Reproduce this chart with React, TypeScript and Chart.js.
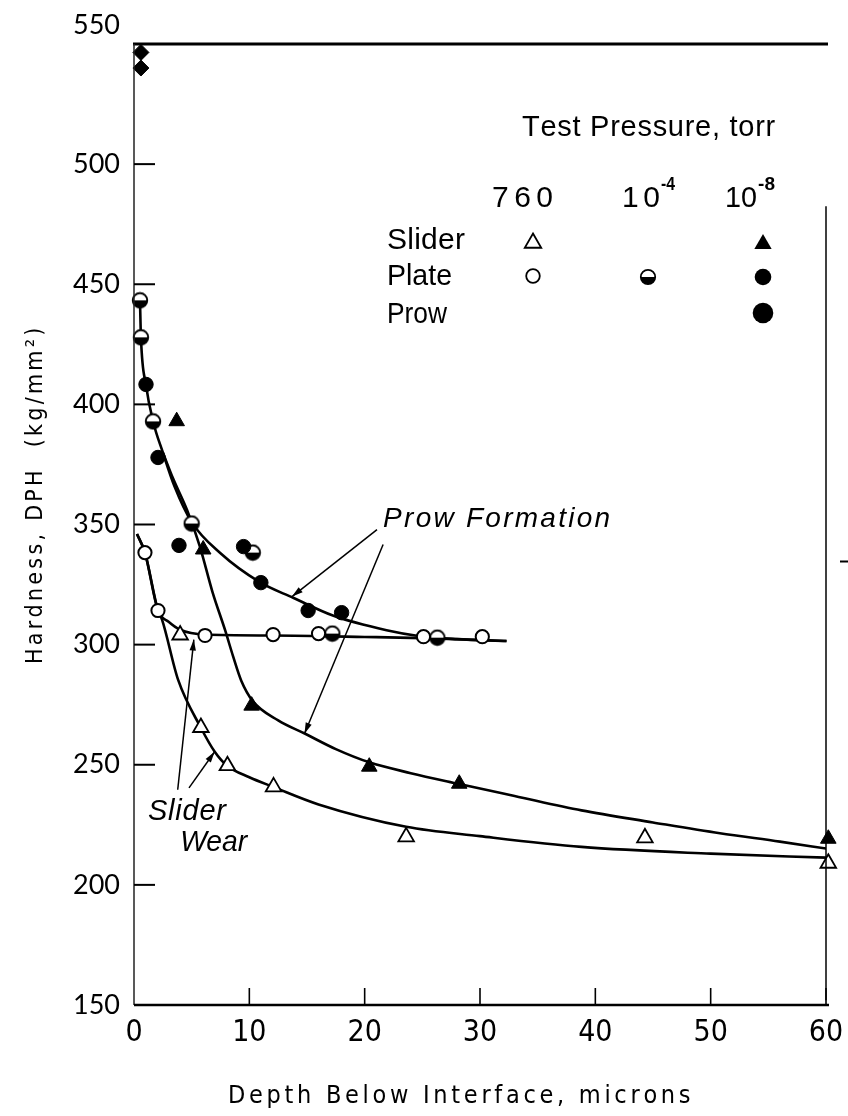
import React, { useEffect, useRef } from 'react';
import { Chart, registerables } from 'chart.js';

Chart.register(...registerables);

// ---------- axis ticks ----------
const xTickValues = [0, 10, 20, 30, 40, 50, 60];
const yTickValues = [150, 200, 250, 300, 350, 400, 450, 500, 550];

// ---------- measured points ----------
// Slider, 760 torr (open triangles)
const sliderAtmX = [4.0, 5.8, 8.1, 12.1, 23.6, 44.3, 60.2];
const sliderAtmY = [304, 265.5, 249.6, 240.8, 220, 219.6, 209];
// Slider, 1e-8 torr (filled triangles)
const sliderVacX = [3.7, 6.0, 10.2, 20.4, 28.2, 60.2];
const sliderVacY = [393, 339.6, 274.6, 249.2, 242.1, 219.2];
// Plate, 760 torr (open circles)
const plateAtmX = [0.95, 2.08, 6.16, 12.06, 16.0, 25.1, 30.2];
const plateAtmY = [338.3, 314.2, 303.8, 304.2, 304.6, 303.3, 303.3];
// Plate, 1e-4 torr (half-filled circles)
const plateMidX = [0.52, 0.6, 1.65, 5.0, 10.3, 17.2, 26.3];
const plateMidY = [443.3, 427.9, 392.9, 350.4, 338.3, 304.6, 302.9];
// Plate, 1e-8 torr (filled circles)
const plateVacX = [1.04, 2.08, 3.9, 9.5, 11.0, 15.1, 18.0];
const plateVacY = [408.3, 377.9, 341.3, 340.8, 325.8, 314.2, 313.3];
// Prow, 1e-8 torr
const prowVacX = [0.6, 0.6];
const prowVacY = [546.5, 540];

// ---------- faired curves ----------
const prowPlateCurveX = [0.52, 0.6, 1.04, 1.65, 2.5, 3.5, 5.0, 7.5, 10.9, 13.8, 17.3, 21.9, 24.8, 28.0, 32.3];
const prowPlateCurveY = [443, 428, 408, 393, 380, 366, 351, 338, 326, 319.5, 312, 306, 303.5, 302.3, 301.5];
const prowSliderCurveX = [2.5, 3.4, 4.6, 5.7, 6.8, 7.9, 8.6, 9.3, 10.3, 12.5, 14.8, 17.5, 20.4, 24.0, 28.2, 33.0, 38.8, 45.0, 50.8, 56.0, 60.2];
const prowSliderCurveY = [380, 369, 356, 341, 322, 306, 295, 285, 276.5, 268.5, 263, 256.5, 251, 246.5, 242, 237, 231, 226, 221.5, 218, 215];
const wearPlateCurveX = [0.26, 0.95, 2.08, 3.0, 4.0, 6.16, 12.0, 20.0, 26.0, 32.3];
const wearPlateCurveY = [346, 338.3, 314.2, 309.5, 306.2, 304.2, 303.8, 303.2, 302.6, 301.5];
const wearSliderCurveX = [0.26, 0.95, 2.08, 2.43, 3.82, 5.8, 7.0, 8.07, 10.0, 12.06, 16.0, 23.6, 30.0, 38.8, 50.0, 60.2];
const wearSliderCurveY = [346, 338.3, 314.2, 310.4, 285.4, 265.4, 255.4, 249.6, 244.8, 240.8, 233.5, 224.2, 220.3, 215.8, 213.0, 211.3];

// ---------- texts ----------
const xTitle = 'Depth Below Interface, microns';
const yTitle = 'Hardness, DPH  (kg/mm²)';
const legendTitle = 'Test Pressure, torr';
const legendRows = ['Slider', 'Plate', 'Prow'];
const prowLabel = 'Prow Formation';
const wearLabel1 = 'Slider';
const wearLabel2 = 'Wear';

const W = 848;
const H = 1116;

const pts = (xs: number[], ys: number[]) => xs.map((x, i) => ({ x, y: ys[i] }));

function makeHalfDisc(size: number, r: number) {
  const c = document.createElement('canvas');
  c.width = size;
  c.height = size;
  const g = c.getContext('2d')!;
  const m = size / 2;
  g.beginPath();
  g.arc(m, m, r, 0, Math.PI * 2);
  g.fillStyle = '#fff';
  g.fill();
  g.beginPath();
  g.arc(m, m, r, 0, Math.PI);
  g.closePath();
  g.fillStyle = '#000';
  g.fill();
  g.beginPath();
  g.arc(m, m, r, 0, Math.PI * 2);
  g.lineWidth = 2;
  g.strokeStyle = '#000';
  g.stroke();
  return c;
}

function fitText(ctx: CanvasRenderingContext2D, text: string, left: number, cy: number, targetW: number, font: string) {
  ctx.save();
  ctx.font = font;
  ctx.textBaseline = 'middle';
  ctx.textAlign = 'left';
  ctx.fillStyle = '#000';
  const chars = Array.from(text);
  const w = ctx.measureText(text).width;
  if (w >= targetW || chars.length < 2) {
    ctx.translate(left, cy);
    ctx.scale(targetW / w, 1);
    ctx.fillText(text, 0, 0);
  } else {
    const ls = (targetW - w) / (chars.length - 1);
    let x = left;
    for (const ch of chars) {
      ctx.fillText(ch, x, cy);
      x += ctx.measureText(ch).width + ls;
    }
  }
  ctx.restore();
}

function seg(ctx: CanvasRenderingContext2D, x1: number, y1: number, x2: number, y2: number, lw: number) {
  ctx.beginPath();
  ctx.moveTo(x1, y1);
  ctx.lineTo(x2, y2);
  ctx.lineWidth = lw;
  ctx.stroke();
}

function arrow(ctx: CanvasRenderingContext2D, x1: number, y1: number, x2: number, y2: number) {
  seg(ctx, x1, y1, x2, y2, 1.5);
  const a = Math.atan2(y2 - y1, x2 - x1);
  const L = 11;
  const hw = 3.2;
  ctx.beginPath();
  ctx.moveTo(x2, y2);
  ctx.lineTo(x2 - L * Math.cos(a) + hw * Math.sin(a), y2 - L * Math.sin(a) - hw * Math.cos(a));
  ctx.lineTo(x2 - L * Math.cos(a) - hw * Math.sin(a), y2 - L * Math.sin(a) + hw * Math.cos(a));
  ctx.closePath();
  ctx.fillStyle = '#000';
  ctx.fill();
}

function tri(ctx: CanvasRenderingContext2D, cx: number, cy: number, r: number, filled: boolean) {
  const s = Math.sin((Math.PI * 2) / 3);
  ctx.beginPath();
  ctx.moveTo(cx, cy - r);
  ctx.lineTo(cx + r * s, cy + r * 0.5);
  ctx.lineTo(cx - r * s, cy + r * 0.5);
  ctx.closePath();
  if (filled) {
    ctx.fillStyle = '#000';
    ctx.fill();
  } else {
    ctx.fillStyle = '#fff';
    ctx.fill();
    ctx.lineWidth = 1.8;
    ctx.strokeStyle = '#000';
    ctx.stroke();
  }
}

function disc(ctx: CanvasRenderingContext2D, cx: number, cy: number, r: number, kind: 'open' | 'filled' | 'half') {
  ctx.beginPath();
  ctx.arc(cx, cy, r, 0, Math.PI * 2);
  ctx.fillStyle = kind === 'filled' ? '#000' : '#fff';
  ctx.fill();
  if (kind === 'half') {
    ctx.beginPath();
    ctx.arc(cx, cy, r, 0, Math.PI);
    ctx.closePath();
    ctx.fillStyle = '#000';
    ctx.fill();
  }
  if (kind !== 'filled') {
    ctx.beginPath();
    ctx.arc(cx, cy, r, 0, Math.PI * 2);
    ctx.lineWidth = 1.8;
    ctx.strokeStyle = '#000';
    ctx.stroke();
  }
}

const SANS = "'Liberation Sans', Arial, sans-serif";
const NARROW = "'Liberation Sans Narrow', 'DejaVu Sans Condensed', Roboto, sans-serif";

const figurePlugin = {
  id: 'figureDecor',
  afterDraw(chart: any) {
    const ctx: CanvasRenderingContext2D = chart.ctx;
    const xs = chart.scales.x;
    const ys = chart.scales.y;
    const px = (v: number) => xs.getPixelForValue(v);
    const py = (v: number) => ys.getPixelForValue(v);
    ctx.save();
    ctx.strokeStyle = '#000';
    ctx.lineCap = 'butt';

    // frame
    seg(ctx, px(0) - 1, py(550), px(60) + 2, py(550), 3);
    ctx.strokeStyle = '#222';
    seg(ctx, px(0), py(550), px(0), py(150), 1.5);
    ctx.strokeStyle = '#000';
    seg(ctx, px(0), py(150), px(60) + 3, py(150), 2.5);
    seg(ctx, px(60), py(482.5), px(60), py(152), 1.5);
    seg(ctx, px(60) + 14, py(334.6), px(60) + 22, py(334.6), 2);

    // inward ticks
    for (const t of xTickValues) {
      if (t > 0) seg(ctx, px(t), py(150), px(t), py(150) - 17, 1.6);
    }
    for (const t of yTickValues) {
      if (t > 150 && t < 550) seg(ctx, px(0), py(t), px(0) + 21, py(t), 2);
    }

    // axis titles
    fitText(ctx, xTitle, 228, 1096, 462, `25px ${NARROW}`);
    ctx.save();
    ctx.translate(36, 496);
    ctx.rotate(-Math.PI / 2);
    fitText(ctx, yTitle, -168, 0, 336, `23px ${NARROW}`);
    ctx.restore();

    // legend
    fitText(ctx, legendTitle, 522, 128, 250, `29px ${SANS}`);
    fitText(ctx, '760', 492, 199, 61, `30px ${SANS}`);
    fitText(ctx, '10', 622, 199, 38, `30px ${SANS}`);
    fitText(ctx, '-4', 661, 185, 14, `bold 19px ${SANS}`);
    fitText(ctx, '10', 725, 199, 32, `30px ${SANS}`);
    fitText(ctx, '-8', 758, 185, 17, `bold 19px ${SANS}`);
    fitText(ctx, legendRows[0], 387, 241, 78, `30px ${SANS}`);
    fitText(ctx, legendRows[1], 387, 277, 65, `30px ${SANS}`);
    fitText(ctx, legendRows[2], 387, 315, 60, `30px ${SANS}`);
    tri(ctx, 533, 243, 9.5, false);
    tri(ctx, 763, 244, 10, true);
    disc(ctx, 533, 276, 6.8, 'open');
    disc(ctx, 648, 277, 7.2, 'half');
    disc(ctx, 763, 277, 8.3, 'filled');
    disc(ctx, 763, 313, 10.3, 'filled');

    // annotations
    fitText(ctx, prowLabel, px(21.6), py(352), 227, `italic 28px ${SANS}`);
    fitText(ctx, wearLabel1, px(1.21), py(230.4), 78, `italic 29px ${SANS}`);
    fitText(ctx, wearLabel2, px(4.0), py(217.5), 67, `italic 29px ${SANS}`);
    ctx.strokeStyle = '#000';
    arrow(ctx, px(21.07), py(347.9), px(13.7), py(320));
    arrow(ctx, px(21.6), py(341.7), px(14.78), py(262.9));
    arrow(ctx, px(3.79), py(239.6), px(5.19), py(302.1));
    arrow(ctx, px(4.77), py(240.4), px(6.99), py(255.4));
    ctx.restore();
  },
};

export default function App() {
  const ref = useRef<HTMLCanvasElement>(null);
  useEffect(() => {
    const canvas = ref.current!;
    const half = makeHalfDisc(18, 7.2);
    const curve = (xs: number[], ys: number[]) => ({
      data: pts(xs, ys),
      showLine: true,
      borderColor: '#000',
      borderWidth: 2.6,
      pointRadius: 0,
      cubicInterpolationMode: 'monotone' as const,
      fill: false,
      order: 2,
    });
    const marks = (xs: number[], ys: number[], style: any, radius: number, bg: string, bw: number) => ({
      data: pts(xs, ys),
      showLine: false,
      pointStyle: style,
      pointRadius: radius,
      pointBackgroundColor: bg,
      pointBorderColor: '#000',
      pointBorderWidth: bw,
      clip: false as any,
      order: 1,
    });
    const chart = new Chart(canvas, {
      type: 'scatter',
      data: {
        datasets: [
          curve(prowPlateCurveX, prowPlateCurveY),
          curve(prowSliderCurveX, prowSliderCurveY),
          curve(wearPlateCurveX, wearPlateCurveY),
          curve(wearSliderCurveX, wearSliderCurveY),
          marks(sliderAtmX, sliderAtmY, 'triangle', 9, '#fff', 1.8),
          marks(sliderVacX, sliderVacY, 'triangle', 9, '#000', 1),
          marks(plateAtmX, plateAtmY, 'circle', 6.6, '#fff', 2),
          marks(plateVacX, plateVacY, 'circle', 7.2, '#000', 1),
          marks(plateMidX, plateMidY, half, 8, '#fff', 0),
          marks(prowVacX, prowVacY, 'rectRot', 8, '#000', 1),
        ] as any,
      },
      options: {
        responsive: false,
        animation: false,
        devicePixelRatio: 1,
        events: [],
        layout: { padding: { left: 0, right: 22, top: 44, bottom: 0 } },
        plugins: { legend: { display: false }, tooltip: { enabled: false } },
        scales: {
          x: {
            type: 'linear',
            min: 0,
            max: 60,
            afterBuildTicks: (s: any) => {
              s.ticks = xTickValues.map((v) => ({ value: v }));
            },
            ticks: {
              color: '#000',
              font: { family: NARROW, size: 30 },
              padding: 10,
              maxRotation: 0,
              autoSkip: false,
            },
            grid: { display: false, drawTicks: false },
            border: { display: false },
            afterFit: (s: any) => {
              s.height = H - 1005;
              s.paddingLeft = 0;
              s.paddingRight = 0;
            },
          },
          y: {
            type: 'linear',
            min: 150,
            max: 550,
            afterBuildTicks: (s: any) => {
              s.ticks = yTickValues.map((v) => ({ value: v }));
            },
            ticks: {
              color: '#000',
              font: { family: "Lato, 'DejaVu Sans', sans-serif", size: 27, lineHeight: 1.4 },
              padding: 14,
              autoSkip: false,
              callback: (v: any) => (Number(v) === 550 ? ['550', ''] : String(v)),
            },
            grid: { display: false, drawTicks: false },
            border: { display: false },
            afterFit: (s: any) => {
              s.width = 134;
              s.paddingTop = 0;
              s.paddingBottom = 0;
            },
          },
        },
      } as any,
      plugins: [figurePlugin],
    });
    return () => chart.destroy();
  }, []);
  return (
    <div style={{ position: 'absolute', left: 0, top: 0, width: W, height: H, background: '#fff' }}>
      <canvas ref={ref} width={W} height={H} style={{ display: 'block', width: W, height: H }} />
    </div>
  );
}
